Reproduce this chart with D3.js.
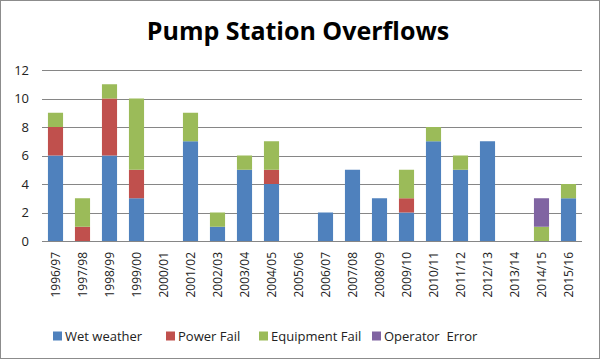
<!DOCTYPE html>
<html><head><meta charset="utf-8">
<script src="https://cdn.jsdelivr.net/npm/d3@7"></script>
<style>body{margin:0;background:#fff}svg{display:block}</style>
</head><body>
<svg id="c" width="600" height="360"></svg>
<script>
const categories = ["1996/97","1997/98","1998/99","1999/00","2000/01","2001/02","2002/03","2003/04","2004/05","2005/06","2006/07","2007/08","2008/09","2009/10","2010/11","2011/12","2012/13","2013/14","2014/15","2015/16"];
const wetWeather   = [6,0,6,3,0,7,1,5,4,0,2,5,3,2,7,5,7,0,0,3];
const powerFail    = [2,1,4,2,0,0,0,0,1,0,0,0,0,1,0,0,0,0,0,0];
const equipFail    = [1,2,1,5,0,2,1,1,2,0,0,0,0,2,1,1,0,0,1,1];
const operatorErr  = [0,0,0,0,0,0,0,0,0,0,0,0,0,0,0,0,0,0,2,0];
const seriesNames  = ["Wet weather","Power Fail","Equipment Fail","Operator  Error"];
const yTicks = [0,2,4,6,8,10,12];
const colors = ["#4F81BD","#C0504D","#9BBB59","#8064A2"];

const svg = d3.select("#c");
svg.append("rect").attr("x",0.5).attr("y",0.5).attr("width",599).attr("height",358)
  .attr("fill","#fff").attr("stroke","#8c8c8c");

const m = {l:42, r:18, t:70, b:119};
const W = 600, H = 360;
const x = d3.scaleBand().domain(categories).range([m.l, W - m.r]).paddingInner(0.44).paddingOuter(0.22);
const y = d3.scaleLinear().domain([0,12]).range([241, 70]);

const table = categories.map((c,i)=>({cat:c, s0:wetWeather[i], s1:powerFail[i], s2:equipFail[i], s3:operatorErr[i]}));
const stack = d3.stack().keys(["s0","s1","s2","s3"])(table);

// gridlines
svg.append("g").selectAll("line").data(yTicks.filter(t=>t>0)).join("line")
  .attr("x1",m.l).attr("x2",W-m.r).attr("y1",d=>Math.round(y(d))+0.5).attr("y2",d=>Math.round(y(d))+0.5)
  .attr("stroke","#868686").attr("stroke-width",1);

// y labels
svg.append("g").selectAll("text").data(yTicks).join("text")
  .attr("x",29).attr("y",d=>y(d)).attr("dy","0.35em").attr("text-anchor","end")
  .attr("font-family","'Open Sans', sans-serif").attr("font-size",13).attr("fill","#222")
  .text(d=>d);

// bars
svg.append("g").selectAll("g").data(stack).join("g").attr("fill",(d,i)=>colors[i])
  .selectAll("rect").data(d=>d.map(v=>Object.assign(v,{cat:v.data.cat}))).join("rect")
  .attr("x",d=>x(d.cat)).attr("width",x.bandwidth())
  .attr("y",d=>y(d[1])).attr("height",d=>y(d[0])-y(d[1]));

// x axis line
svg.append("line").attr("x1",m.l).attr("x2",W-m.r).attr("y1",241.5).attr("y2",241.5)
  .attr("stroke","#868686");

// x labels
svg.append("g").selectAll("text").data(categories).join("text")
  .attr("transform",d=>`translate(${x(d)+x.bandwidth()/2},252) rotate(-90)`)
  .attr("text-anchor","end").attr("dy","0.35em")
  .attr("font-family","'Open Sans', sans-serif").attr("font-size",12).attr("fill","#222")
  .text(d=>d);

// title
svg.append("text").attr("x",298).attr("y",40).attr("text-anchor","middle")
  .attr("font-family","'Open Sans', sans-serif").attr("font-weight","bold").attr("font-size",25)
  .attr("fill","#000").text("Pump Station Overflows");

// legend
const legX = [53,166,259,372];
const lg = svg.append("g").selectAll("g").data(seriesNames).join("g")
  .attr("transform",(d,i)=>`translate(${legX[i]},336)`);
lg.append("rect").attr("x",0).attr("y",-4.5).attr("width",9).attr("height",9).attr("fill",(d,i)=>colors[i]);
lg.append("text").attr("x",12).attr("dy","0.35em")
  .attr("font-family","'Open Sans', sans-serif").attr("font-size",13).attr("fill","#222")
  .attr("xml:space","preserve").style("white-space","pre").text(d=>d);
</script>
</body></html>
